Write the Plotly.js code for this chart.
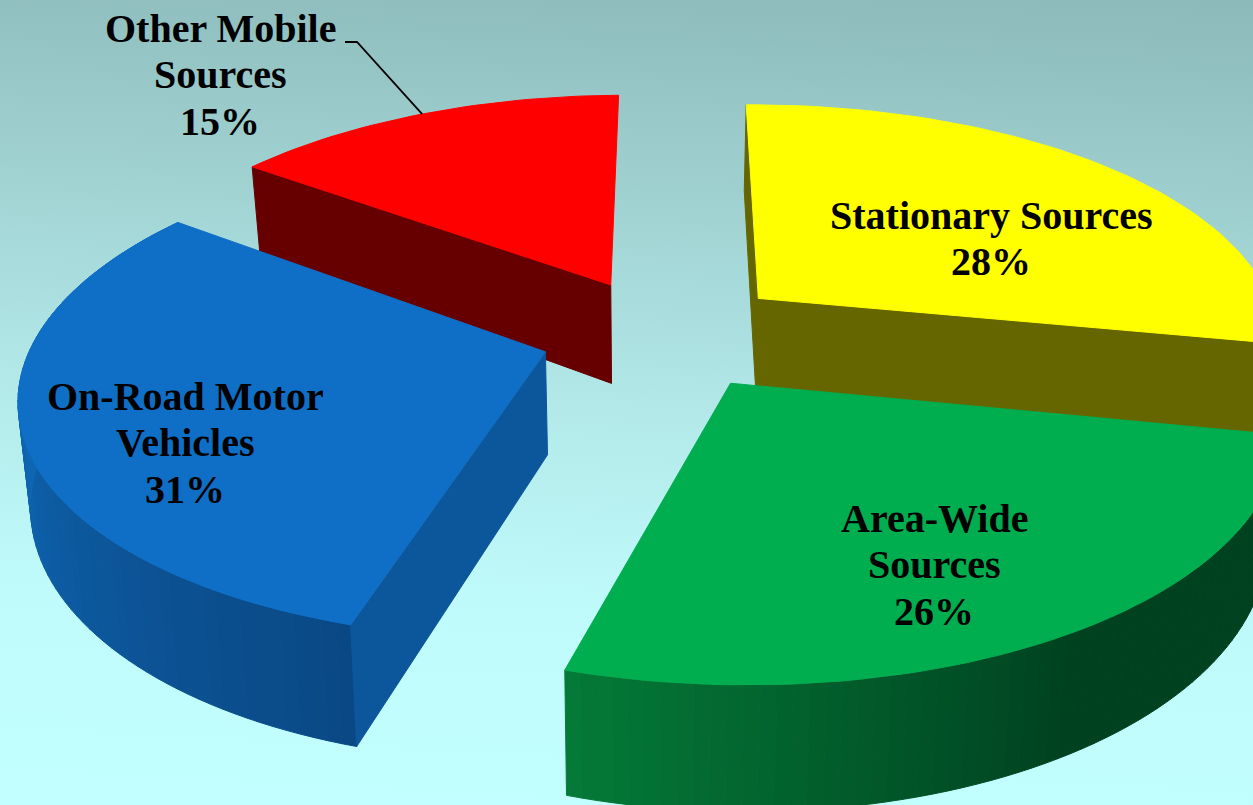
<!DOCTYPE html>
<html>
<head>
<meta charset="utf-8">
<script src="https://cdn.plot.ly/plotly-3.0.1.min.js"></script>
<style>
html,body{margin:0;padding:0;width:1253px;height:805px;overflow:hidden;
background:linear-gradient(183deg,#8cb9b9 0%,#9fd0d0 25%,#b2e8e8 50%,#c0fbfb 75%,#c2ffff 100%);}
#chart{width:1253px;height:805px;}
</style>
</head>
<body>
<div id="chart"></div>
<script>
// Data (clockwise from the top of the pie)
const categories = ["Stationary Sources", "Area-Wide<br>Sources", "On-Road Motor<br>Vehicles", "Other Mobile<br>Sources"];
const values = [28.2, 26.3, 30.7, 14.8];
const topColors = ["#ffff00", "#00ad4f", "#0f6fc6", "#ff0000"];
const cutColors = ["#666600", "#004f28", "#0c569c", "#660000"];

// Styles and camera
const labelX = [991, 934, 185, 220];
const labelY = [215, 518, 396, 28];
const lineGap = 46.5;
const arcShade = {1: ["#047a38", "#004220"], 2: ["#0a4884", "#0f68b6"]};
const CAM = {x0: 479.5, yh: -1124.5, F: 3200, H: 9040, D: 6.2, Xc: 0.358, phi: 3, explode: 0.24, depth: 632, conv: 0.98, convX: 650,
             shearY: -0.026, shearX: -0.015, midX: 660, midY: 335};
const rad = d => d * Math.PI / 180;

const total = values.reduce((a, b) => a + b, 0);
let acc = 0;
const slices = values.map(v => {
  const a = CAM.phi + acc / total * 360;
  acc += v;
  return {a0: a, a1: CAM.phi + acc / total * 360};
});

function world(i, theta, r) {
  const s = slices[i], mid = rad((s.a0 + s.a1) / 2), t = rad(theta);
  return [CAM.Xc + CAM.explode * Math.sin(mid) + r * Math.sin(t),
          CAM.explode * Math.cos(mid) + r * Math.cos(t)];
}
function sheared(x, y) {
  return [x + CAM.shearX * (y - CAM.midY), y + CAM.shearY * (x - CAM.midX)];
}
function rawTop(i, theta, r) {
  const [X, Y] = world(i, theta, r), Z = CAM.D + Y;
  return [CAM.x0 + CAM.F * X / Z, CAM.yh + CAM.H / Z];
}
function topPt(i, theta, r) {
  const p = rawTop(i, theta, r);
  return sheared(p[0], p[1]);
}
function botPt(i, theta, r) {
  const [X, Y] = world(i, theta, r), Z = CAM.D + Y, p = rawTop(i, theta, r);
  const q = sheared(p[0], p[1]);
  return [CAM.convX + (q[0] - CAM.convX) * CAM.conv, q[1] + CAM.depth / Z];
}
function poly(pts, color) {
  const xs = pts.map(p => p[0]), ys = pts.map(p => p[1]);
  xs.push(xs[0]); ys.push(ys[0]);
  return {type: "scatter", mode: "lines", x: xs, y: ys, fill: "toself", fillcolor: color,
          line: {color: color, width: 1}, hoverinfo: "skip", showlegend: false};
}
function mix(c0, c1, t) {
  const h = c => [1, 3, 5].map(k => parseInt(c.substr(k, 2), 16));
  const a = h(c0), b = h(c1);
  return "rgb(" + a.map((v, k) => Math.round(v + (b[k] - v) * t)).join(",") + ")";
}
function arcPts(i, a0, a1) {
  const n = Math.max(2, Math.ceil(Math.abs(a1 - a0) / 1.5)), out = [];
  for (let k = 0; k <= n; k++) out.push(a0 + (a1 - a0) * k / n);
  return out;
}
function topFace(i) {
  const s = slices[i];
  return poly([topPt(i, s.a0, 0)].concat(arcPts(i, s.a0, s.a1).map(a => topPt(i, a, 1))), topColors[i]);
}
function cutFace(i, theta) {
  return poly([topPt(i, theta, 0), topPt(i, theta, 1), botPt(i, theta, 1), botPt(i, theta, 0)], cutColors[i]);
}
function arcBands(i, shadeFn) {
  const s = slices[i], angles = arcPts(i, s.a0, s.a1), out = [];
  for (let k = 0; k < angles.length - 1; k++) {
    const a = angles[k], b = angles[k + 1];
    out.push(poly([topPt(i, a, 1), topPt(i, b, 1), botPt(i, b, 1), botPt(i, a, 1)], shadeFn((k + 0.5) / (angles.length - 1))));
  }
  return out;
}

const traces = [];
// Back slices first
traces.push(cutFace(3, slices[3].a0), topFace(3));
traces.push(cutFace(0, slices[0].a0), cutFace(0, slices[0].a1), topFace(0));
// Blue
traces.push(...arcBands(2, f => mix(arcShade[2][0], arcShade[2][1], Math.min(1, f / 0.65))));
traces.push(cutFace(2, slices[2].a0), topFace(2));
// Green
traces.push(...arcBands(1, f => mix(arcShade[1][0], arcShade[1][1], Math.min(1, (1 - f) / 0.5))));
traces.push(topFace(1));
// Leader line of the red slice
const leadEnd = topPt(3, slices[3].a0 + (slices[3].a1 - slices[3].a0) * 0.5, 1);
traces.push({type: "scatter", mode: "lines", x: [345, 357, leadEnd[0]], y: [42, 42, leadEnd[1]],
  line: {color: "#000000", width: 1.8}, hoverinfo: "skip", showlegend: false});

const annotations = [];
categories.forEach((c, i) => {
  const lines = c.split("<br>").concat([Math.round(values[i]) + "%"]);
  lines.forEach((text, k) => annotations.push({
    x: labelX[i], y: labelY[i] + k * lineGap, xref: "x", yref: "y", showarrow: false,
    xanchor: "center", yanchor: "middle", text: "<b>" + text + "</b>",
    font: {family: "'Liberation Serif', serif", size: 40, color: "#000000"}
  }));
});

Plotly.newPlot("chart", traces, {
  width: 1253, height: 805, margin: {l: 0, r: 0, t: 0, b: 0},
  paper_bgcolor: "rgba(0,0,0,0)", plot_bgcolor: "rgba(0,0,0,0)", showlegend: false,
  xaxis: {range: [0, 1253], visible: false, fixedrange: true},
  yaxis: {range: [805, 0], visible: false, fixedrange: true},
  annotations: annotations
}, {staticPlot: true, displayModeBar: false});
</script>
</body>
</html>
